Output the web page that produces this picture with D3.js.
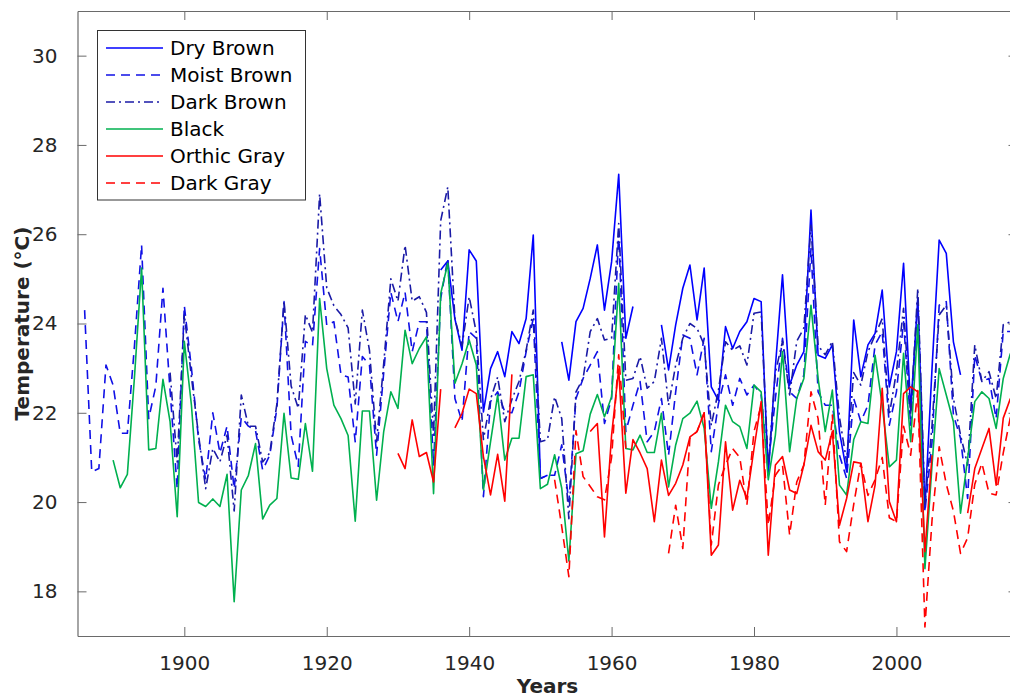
<!DOCTYPE html>
<html>
<head>
<meta charset="utf-8">
<script src="https://cdn.jsdelivr.net/npm/d3@7"></script>
<style>
  html, body { margin: 0; padding: 0; background: #fff; overflow: hidden; }
  svg { display: block; font-family: "DejaVu Sans", sans-serif; }
</style>
</head>
<body>
<svg id="chart" width="1010" height="700"></svg>
<script>
// ---------------- DATA ----------------
const firstYear = 1885;
const lastYear = 2016;
const xTicks = [1900, 1920, 1940, 1960, 1980, 2000];
const yTicks = [18, 20, 22, 24, 26, 28, 30];
const seriesNames = ["Dry Brown", "Moist Brown", "Dark Brown", "Black", "Orthic Gray", "Dark Gray"];

// values per year starting at 1885 (null = no data)
const dryBrown = [
  null, null, null, null, null, null, null, null, null, null,           // 1885-1894
  null, null, null, null, null, null, null, null, null, null,           // 1895-1904
  null, null, null, null, null, null, null, null, null, null,           // 1905-1914
  null, null, null, null, null, null, null, null, null, null,           // 1915-1924
  null, null, null, null, null, null, null, null, null, null,           // 1925-1934
  null, 25.2, 25.4, 24.1, 23.4, 25.65, 25.4, 22.02, 22.99, 23.37,       // 1935-1944
  22.81, 23.82, 23.55, 24.11, 25.98, 20.53, 20.6, null, 23.59, 22.73,   // 1945-1954
  24.04, 24.34, 25.01, 25.76, 24.3, 25.38, 27.34, 23.67, 24.38, null,   // 1955-1964
  null, null, 23.97, 22.96, 23.97, 24.79, 25.31, 24.08, 25.24, 22.58,   // 1965-1974
  22.28, 23.93, 23.44, 23.82, 24.04, 24.56, 24.49, 20.6, 23.03, 25.09,  // 1975-1984
  22.62, 23.07, 23.37, 26.54, 23.29, 23.22, 23.52, 21.58, 20.68, 24.08, // 1985-1994
  22.81, 23.52, 23.78, 24.75, 22.58, 23.37, 25.35, 22.06, 24.56, 19.86, // 1995-2004
  23.0, 25.87, 25.57, 23.59, 22.85, null, null, null, null, null,       // 2005-2014
  null, null                                                            // 2015-2016
];
const moistBrown = [
  null, 24.3, 20.68, 20.75, 23.07, 22.62, 21.54, 21.54, 23.5, 25.76,    // 1885-1894
  21.87, 22.6, 24.79, 22.5, 20.3, 24.4, 23.0, 21.4, 20.5, 22.0,         // 1895-1904
  21.1, 21.7, 20.3, 21.9, 21.7, 21.6, 20.72, 21.05, 22.1, 24.49,        // 1905-1914
  21.5, 20.8, 23.6, 23.5, 25.68, 23.96, 24.04, 22.85, 22.8, 21.35,      // 1915-1924
  23.26, 23.07, 21.05, 22.9, 24.7, 24.04, 24.7, 23.37, 24.04, 24.04,    // 1925-1934
  20.83, 24.56, 25.46, 22.32, 21.8, 23.82, 23.67, 20.12, 22.25, 22.47,  // 1935-1944
  22.02, 22.0, 22.47, 23.37, 24.11, 20.53, 20.6, 20.6, 21.28, 20.01,    // 1945-1954
  22.32, 22.77, 23.07, 23.37, 21.76, 22.32, 26.06, 21.58, 22.17, 22.7,  // 1955-1964
  21.35, 21.58, 22.32, 21.05, 22.47, 23.74, 23.67, 22.85, 23.67, 21.13, // 1965-1974
  22.2, 22.85, 22.17, 22.77, 22.4, 22.62, 22.4, 20.83, 22.32, 23.67,    // 1975-1984
  22.47, 22.32, 22.85, 25.68, 22.47, 22.17, 22.17, 21.05, 20.53, 22.32, // 1985-1994
  21.8, 22.17, 23.52, 23.82, 21.72, 22.47, 24.04, 21.72, 24.56, 19.78,  // 1995-2004
  21.35, 24.41, 24.49, 21.95, 21.43, 20.08, 23.29, 22.7, 22.77, 21.87,  // 2005-2014
  23.82, 23.82                                                          // 2015-2016
];
const darkBrown = [
  null, null, null, null, null, null, null, null, null, null,           // 1885-1894
  null, null, null, 22.9, 20.9, 24.2, 22.8, 21.5, 20.3, 21.2,           // 1895-1904
  20.9, 21.5, 19.8, 22.4, 21.7, 21.7, 20.9, 21.1, 22.2, 24.5,           // 1905-1914
  22.6, 22.1, 24.2, 23.8, 26.9, 24.8, 24.4, 24.2, 23.9, 22.2,           // 1915-1924
  24.3, 23.4, 21.35, 23.1, 25.0, 24.5, 25.75, 24.5, 24.6, 24.25,        // 1925-1934
  21.5, 26.3, 27.06, 24.1, 23.5, 24.6, 23.8, 21.4, 22.3, 22.8,          // 1935-1944
  21.8, 22.3, 22.7, 23.4, 24.3, 21.35, 21.4, 22.36, 21.87, 19.63,       // 1945-1954
  22.47, 22.77, 23.82, 24.11, 23.63, 23.67, 26.24, 22.73, 22.77, 23.26, // 1955-1964
  22.55, 22.7, 23.67, 22.17, 23.07, 23.67, 24.0, 23.89, 23.52, 21.72,   // 1965-1974
  22.5, 23.59, 23.4, 23.5, 23.07, 24.23, 24.26, 20.8, 22.9, 23.6,       // 1975-1984
  22.4, 23.6, 23.9, 26.2, 23.5, 23.3, 23.6, 21.9, 20.9, 22.9,           // 1985-1994
  22.62, 23.37, 23.74, 24.11, 21.95, 22.92, 24.34, 21.95, 24.79, 19.93, // 1995-2004
  21.72, 24.19, 24.41, 22.32, 21.5, 20.83, 23.52, 22.7, 22.92, 22.32,   // 2005-2014
  23.97, 24.04                                                          // 2015-2016
];
const black = [
  null, null, null, null, null, 20.94, 20.32, 20.62, 22.8, 25.24,       // 1885-1894
  21.17, 21.2, 22.75, 21.8, 19.67, 23.6, 22.17, 19.99, 19.9, 20.07,     // 1895-1904
  19.9, 20.62, 17.77, 20.27, 20.6, 21.31, 19.62, 19.93, 20.08, 21.99,   // 1905-1914
  20.54, 20.51, 21.76, 20.69, 24.56, 22.99, 22.17, 21.87, 21.49, 19.57, // 1915-1924
  22.04, 22.04, 20.04, 21.58, 22.47, 22.1, 23.85, 23.1, 23.44, 23.7,    // 1925-1934
  20.19, 24.67, 25.35, 22.66, 23.1, 23.63, 23.07, 20.27, 21.35, 22.4,   // 1935-1944
  20.94, 21.43, 21.43, 22.81, 22.85, 20.3, 20.4, 21.06, 20.31, 18.68,   // 1945-1954
  21.08, 21.15, 21.97, 22.41, 21.91, 22.36, 24.9, 21.2, 21.17, 21.5,    // 1955-1964
  21.11, 21.11, 21.99, 20.34, 21.28, 21.87, 21.99, 22.26, 21.65, 19.86, // 1965-1974
  20.9, 22.17, 21.8, 21.69, 21.2, 22.62, 22.47, 20.5, 21.5, 23.37,      // 1975-1984
  21.13, 22.32, 22.77, 24.41, 22.77, 21.58, 22.51, 20.38, 20.16, 21.4,  // 1985-1994
  21.8, 21.76, 23.29, 22.17, 20.79, 20.94, 23.33, 21.35, 23.97, 18.51,  // 1995-2004
  20.83, 22.99, 22.4, 21.8, 19.75, 20.98, 22.25, 22.47, 22.32, 21.65,   // 2005-2014
  22.77, 23.33                                                          // 2015-2016
];
const orthicGray = [
  null, null, null, null, null, null, null, null, null, null,           // 1885-1894
  null, null, null, null, null, null, null, null, null, null,           // 1895-1904
  null, null, null, null, null, null, null, null, null, null,           // 1905-1914
  null, null, null, null, null, null, null, null, null, null,           // 1915-1924
  null, null, null, null, null, 21.09, 20.75, 21.84, 21.02, 21.11,      // 1925-1934
  20.45, 22.53, null, 21.66, 21.99, 22.53, 22.43, 21.02, 20.16, 21.07,  // 1935-1944
  20.02, 22.86, null, null, null, null, null, null, null, null,         // 1945-1954
  null, null, 21.58, 21.76, 19.22, 21.5, 22.98, 20.2, 21.4, 21.1,       // 1955-1964
  20.75, 19.56, 20.94, 20.15, 20.42, 20.83, 21.46, 21.58, 22.0, 18.81,  // 1965-1974
  19.04, 21.35, 19.82, 20.49, 20.08, 21.2, 22.25, 18.81, 20.83, 21.02,  // 1975-1984
  20.27, 20.19, 20.83, 21.72, 21.13, 20.94, 21.58, 19.48, 20.08, 20.9,  // 1985-1994
  20.87, 19.56, 20.38, 22.55, 20.01, 19.56, 22.43, 22.58, 22.47, 18.89, // 1995-2004
  21.05, null, null, null, null, 19.75, 20.75, 21.2, 21.65, 20.38,      // 2005-2014
  21.88, 22.32                                                          // 2015-2016
];
const darkGray = [
  null, null, null, null, null, null, null, null, null, null,           // 1885-1894
  null, null, null, null, null, null, null, null, null, null,           // 1895-1904
  null, null, null, null, null, null, null, null, null, null,           // 1905-1914
  null, null, null, null, null, null, null, null, null, null,           // 1915-1924
  null, null, null, null, null, null, null, null, null, null,           // 1925-1934
  null, null, null, null, null, null, null, null, null, null,           // 1935-1944
  null, null, null, null, null, null, null, 20.5, 19.45, 18.33,         // 1945-1954
  21.6, 20.57, 20.35, 20.12, 20.05, 21.0, 23.3, 21.2, null, null,       // 1955-1964
  null, null, null, 18.85, 19.93, 18.96, 21.43, 21.58, 22.0, 19.04,     // 1965-1974
  20.38, 20.83, 21.2, 21.0, 19.93, 21.58, 22.17, 19.48, 20.6, 20.83,    // 1975-1984
  19.26, 20.45, 20.83, 22.47, 21.87, 19.93, 21.95, 19.11, 18.89, 19.95, // 1985-1994
  20.87, 20.15, 20.5, 21.0, 19.65, 19.56, 21.7, 21.05, 22.5, 17.2,      // 1995-2004
  19.6, 21.24, 20.4, 19.8, 18.85, 19.2, 20.4, 20.87, 20.2, 20.16,       // 2005-2014
  21.1, 21.9                                                            // 2015-2016
];

// ---------------- STYLE ----------------
const styles = [
  { name: seriesNames[0], values: dryBrown,   color: "#0000ff", dash: null },
  { name: seriesNames[1], values: moistBrown, color: "#1010e6", dash: "9,6" },
  { name: seriesNames[2], values: darkBrown,  color: "#1a1aa6", dash: "9,4,2,4" },
  { name: seriesNames[3], values: black,      color: "#00b04f", dash: null },
  { name: seriesNames[4], values: orthicGray, color: "#ff0000", dash: null },
  { name: seriesNames[5], values: darkGray,   color: "#ff0000", dash: "9,6" }
];

const svg = d3.select("#chart");
const M = { left: 77.5, top: 11, right: 1017.5, bottom: 636 };

const x = d3.scaleLinear().domain([1885, 2017]).range([M.left, M.right]);
const y = d3.scaleLinear().domain([17, 31]).range([M.bottom, M.top]);

svg.append("defs").append("clipPath").attr("id", "clip")
  .append("rect").attr("x", M.left).attr("y", M.top)
  .attr("width", M.right - M.left).attr("height", M.bottom - M.top);

// lines
const line = d3.line()
  .defined(d => d.v !== null)
  .x(d => x(d.year))
  .y(d => y(d.v));

const gLines = svg.append("g").attr("clip-path", "url(#clip)");
styles.forEach(s => {
  const pts = s.values.map((v, i) => ({ year: firstYear + i, v: v }));
  gLines.append("path")
    .datum(pts)
    .attr("fill", "none")
    .attr("stroke", s.color)
    .attr("stroke-width", 1.6)
    .attr("stroke-linejoin", "round")
    .attr("stroke-dasharray", s.dash)
    .attr("d", line);
});

// axes (MATLAB box style, inward ticks)
const axisColor = "#6a6a6a";
const tickLen = 9;
const textColor = "#262626";

const bottomAxis = d3.axisBottom(x).tickValues(xTicks).tickFormat(d3.format("d"))
  .tickSizeInner(-tickLen).tickSizeOuter(0).tickPadding(20);
const topAxis = d3.axisTop(x).tickValues(xTicks).tickFormat("")
  .tickSizeInner(-tickLen).tickSizeOuter(0);
const leftAxis = d3.axisLeft(y).tickValues(yTicks).tickFormat(d3.format("d"))
  .tickSizeInner(-tickLen).tickSizeOuter(0).tickPadding(20);
const rightAxis = d3.axisRight(y).tickValues(yTicks).tickFormat("")
  .tickSizeInner(-tickLen).tickSizeOuter(0);

function styleAxis(g) {
  g.select(".domain").attr("stroke", axisColor).attr("stroke-width", 1.2);
  g.selectAll(".tick line").attr("stroke", axisColor).attr("stroke-width", 1);
  g.selectAll(".tick text").attr("fill", textColor)
    .style("font-family", "'DejaVu Sans', sans-serif").style("font-size", "20px");
}

svg.append("g").attr("transform", `translate(0,${M.bottom})`).call(bottomAxis).call(styleAxis);
svg.append("g").attr("transform", `translate(0,${M.top})`).call(topAxis).call(styleAxis);
svg.append("g").attr("transform", `translate(${M.left},0)`).call(leftAxis).call(styleAxis);
svg.append("g").attr("transform", `translate(${M.right},0)`).call(rightAxis).call(styleAxis);

// axis titles
svg.append("text")
  .attr("x", (M.left + M.right) / 2)
  .attr("y", 693)
  .attr("text-anchor", "middle")
  .attr("fill", textColor)
  .style("font-size", "20px").style("font-weight", "bold")
  .text("Years");

svg.append("text")
  .attr("transform", `translate(29,${(M.top + M.bottom) / 2}) rotate(-90)`)
  .attr("text-anchor", "middle")
  .attr("fill", textColor)
  .style("font-size", "20px").style("font-weight", "bold")
  .text("Temperature (°C)");

// legend
const lg = svg.append("g");
lg.append("rect")
  .attr("x", 97.5).attr("y", 30.5).attr("width", 208).attr("height", 169.5)
  .attr("fill", "#fff").attr("stroke", "#333").attr("stroke-width", 1);
styles.forEach((s, i) => {
  const yy = 48 + i * 27;
  lg.append("line")
    .attr("x1", 106).attr("x2", 163).attr("y1", yy).attr("y2", yy)
    .attr("stroke", s.color).attr("stroke-width", 1.6)
    .attr("stroke-dasharray", s.dash);
  lg.append("text")
    .attr("x", 170).attr("y", yy).attr("dy", "0.36em")
    .attr("fill", "#000")
    .style("font-size", "20px")
    .text(s.name);
});
</script>
</body>
</html>
